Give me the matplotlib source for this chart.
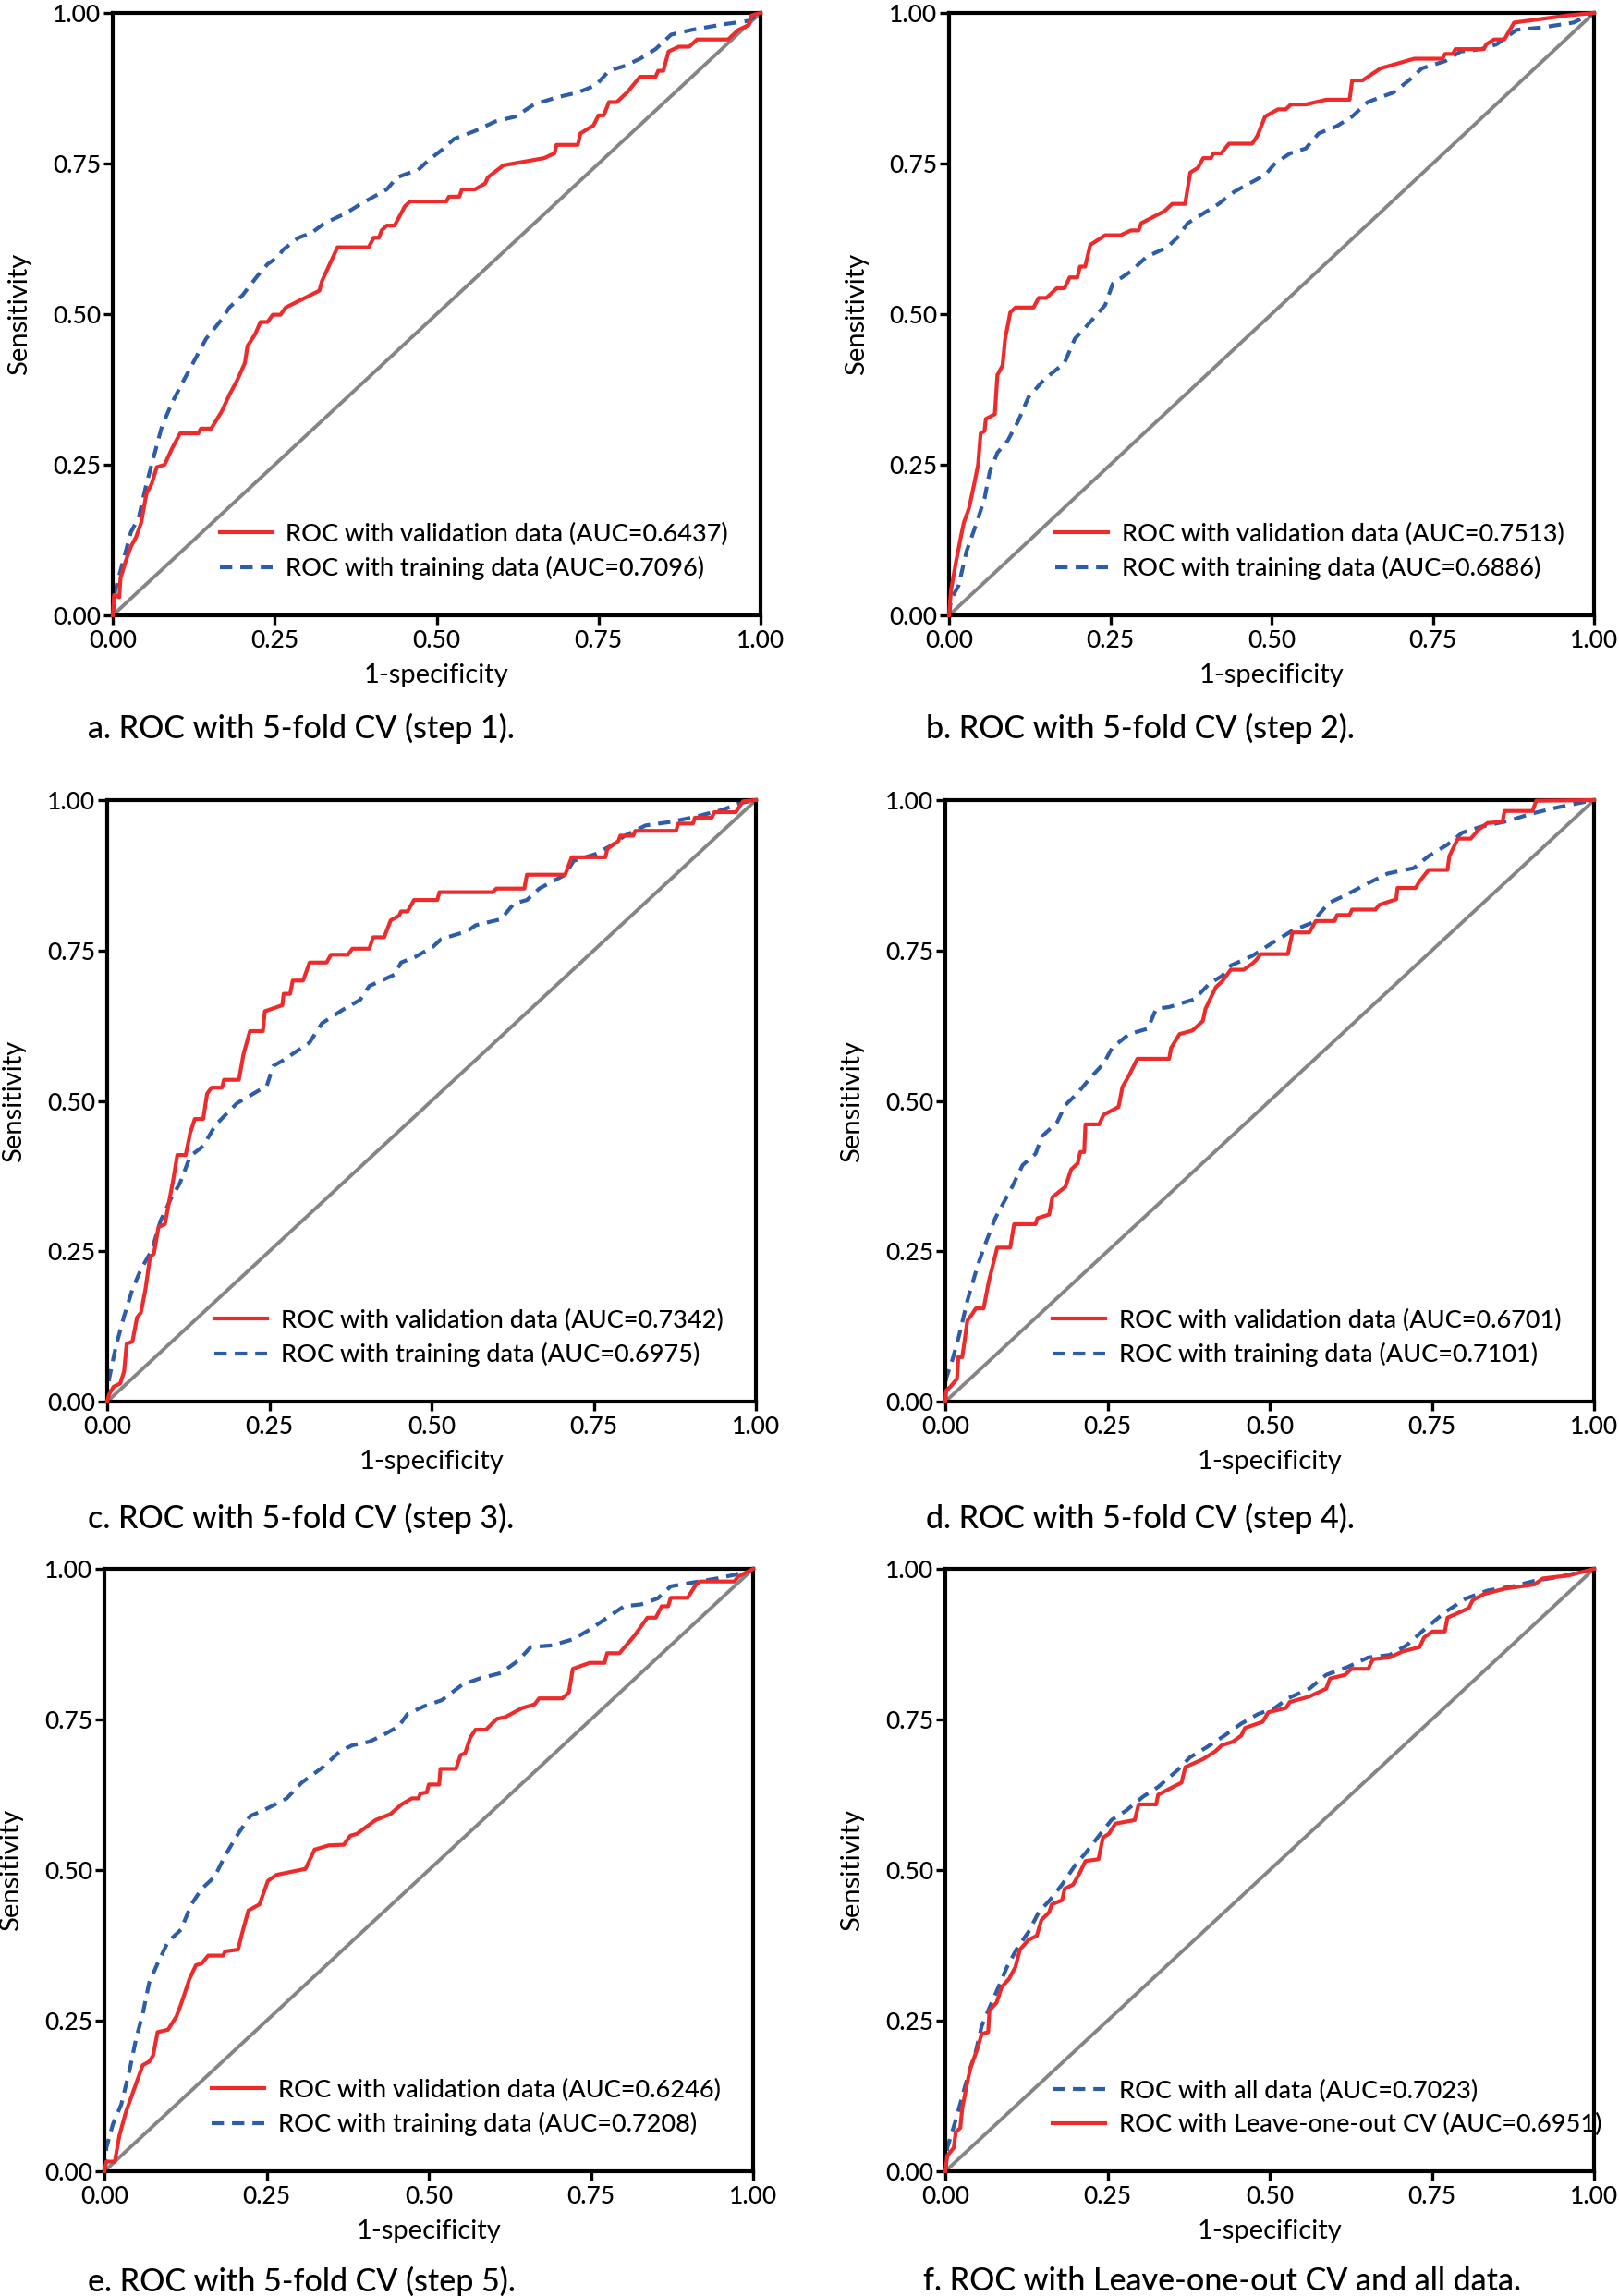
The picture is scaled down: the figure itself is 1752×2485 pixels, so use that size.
import matplotlib
matplotlib.use("Agg")
import matplotlib.pyplot as plt

plt.rcParams['font.family'] = ['Lato', 'DejaVu Sans']
plt.rcParams['font.weight'] = 'medium'

# ---------------- data ----------------
# Panel a
a_val_x = [0, 0.002, 0.01, 0.012, 0.02, 0.028, 0.036, 0.044, 0.052, 0.06, 0.068, 0.08, 0.092, 0.104, 0.132, 0.136, 0.152, 0.168, 0.18, 0.192, 0.204, 0.208, 0.22, 0.228, 0.239, 0.247, 0.259, 0.267, 0.319, 0.323, 0.347, 0.395, 0.403, 0.411, 0.415, 0.423, 0.435, 0.451, 0.459, 0.515, 0.519, 0.535, 0.539, 0.559, 0.575, 0.579, 0.603, 0.666, 0.682, 0.685, 0.718, 0.722, 0.734, 0.742, 0.75, 0.758, 0.766, 0.778, 0.794, 0.814, 0.838, 0.842, 0.85, 0.858, 0.874, 0.89, 0.902, 0.95, 0.966, 0.982, 0.986, 1.0]
a_val_y = [0, 0.034, 0.03, 0.062, 0.09, 0.114, 0.13, 0.154, 0.202, 0.218, 0.246, 0.25, 0.278, 0.302, 0.302, 0.31, 0.31, 0.338, 0.366, 0.39, 0.419, 0.447, 0.467, 0.487, 0.487, 0.499, 0.499, 0.511, 0.539, 0.555, 0.611, 0.611, 0.627, 0.627, 0.639, 0.647, 0.647, 0.679, 0.687, 0.687, 0.695, 0.695, 0.707, 0.707, 0.717, 0.727, 0.747, 0.759, 0.767, 0.781, 0.781, 0.8, 0.808, 0.813, 0.83, 0.83, 0.852, 0.852, 0.868, 0.894, 0.894, 0.904, 0.904, 0.936, 0.944, 0.944, 0.956, 0.956, 0.972, 0.98, 0.996, 1.0]
a_trn_x = [0, 0.004, 0.016, 0.028, 0.04, 0.052, 0.064, 0.076, 0.092, 0.108, 0.124, 0.144, 0.168, 0.18, 0.2, 0.223, 0.239, 0.255, 0.263, 0.287, 0.307, 0.327, 0.359, 0.383, 0.423, 0.439, 0.459, 0.471, 0.487, 0.511, 0.527, 0.559, 0.591, 0.622, 0.65, 0.686, 0.718, 0.746, 0.766, 0.79, 0.814, 0.838, 0.862, 0.894, 0.942, 0.982, 1.0]
a_trn_y = [0, 0.042, 0.09, 0.138, 0.162, 0.218, 0.266, 0.314, 0.354, 0.387, 0.419, 0.459, 0.491, 0.511, 0.531, 0.563, 0.583, 0.595, 0.607, 0.627, 0.635, 0.651, 0.667, 0.683, 0.707, 0.727, 0.735, 0.739, 0.755, 0.775, 0.791, 0.804, 0.82, 0.828, 0.848, 0.86, 0.868, 0.88, 0.904, 0.912, 0.924, 0.94, 0.964, 0.972, 0.981, 0.987, 1.0]

# Panel b
b_val_x = [0, 0.003, 0.011, 0.019, 0.023, 0.031, 0.039, 0.045, 0.049, 0.055, 0.057, 0.071, 0.075, 0.083, 0.087, 0.095, 0.103, 0.131, 0.139, 0.151, 0.167, 0.179, 0.187, 0.199, 0.203, 0.211, 0.219, 0.242, 0.266, 0.282, 0.294, 0.298, 0.334, 0.346, 0.366, 0.374, 0.386, 0.394, 0.406, 0.41, 0.422, 0.434, 0.47, 0.478, 0.49, 0.51, 0.522, 0.53, 0.553, 0.585, 0.621, 0.625, 0.641, 0.669, 0.721, 0.765, 0.769, 0.781, 0.785, 0.829, 0.833, 0.845, 0.861, 0.876, 0.904, 0.96, 1.0]
b_val_y = [0, 0.042, 0.09, 0.134, 0.154, 0.178, 0.218, 0.25, 0.302, 0.306, 0.326, 0.334, 0.399, 0.415, 0.459, 0.503, 0.511, 0.511, 0.527, 0.527, 0.543, 0.543, 0.561, 0.561, 0.579, 0.579, 0.615, 0.631, 0.631, 0.639, 0.639, 0.651, 0.671, 0.683, 0.683, 0.735, 0.743, 0.759, 0.759, 0.767, 0.767, 0.783, 0.783, 0.796, 0.828, 0.84, 0.84, 0.848, 0.848, 0.856, 0.856, 0.888, 0.888, 0.908, 0.924, 0.924, 0.932, 0.932, 0.94, 0.94, 0.948, 0.956, 0.956, 0.984, 0.988, 0.996, 1.0]
b_trn_x = [0, 0.003, 0.015, 0.027, 0.043, 0.055, 0.063, 0.075, 0.091, 0.107, 0.123, 0.147, 0.179, 0.195, 0.219, 0.242, 0.254, 0.282, 0.306, 0.338, 0.354, 0.37, 0.394, 0.418, 0.442, 0.462, 0.49, 0.506, 0.529, 0.553, 0.573, 0.601, 0.625, 0.649, 0.689, 0.713, 0.733, 0.769, 0.793, 0.825, 0.849, 0.88, 0.92, 0.968, 1.0]
b_trn_y = [0, 0.026, 0.05, 0.106, 0.154, 0.194, 0.238, 0.27, 0.29, 0.322, 0.362, 0.391, 0.419, 0.459, 0.487, 0.515, 0.551, 0.571, 0.595, 0.611, 0.627, 0.651, 0.667, 0.683, 0.703, 0.715, 0.731, 0.751, 0.767, 0.775, 0.8, 0.812, 0.828, 0.852, 0.868, 0.888, 0.908, 0.92, 0.936, 0.94, 0.948, 0.972, 0.976, 0.984, 1.0]

# Panel c
c_val_x = [0, 0.003, 0.01, 0.02, 0.026, 0.03, 0.039, 0.046, 0.052, 0.059, 0.066, 0.072, 0.079, 0.089, 0.095, 0.102, 0.108, 0.121, 0.128, 0.135, 0.148, 0.154, 0.161, 0.177, 0.18, 0.203, 0.21, 0.22, 0.24, 0.243, 0.27, 0.272, 0.282, 0.286, 0.302, 0.312, 0.338, 0.345, 0.371, 0.378, 0.404, 0.41, 0.427, 0.437, 0.45, 0.453, 0.463, 0.473, 0.509, 0.512, 0.594, 0.6, 0.643, 0.647, 0.706, 0.716, 0.768, 0.771, 0.788, 0.791, 0.811, 0.814, 0.877, 0.88, 0.903, 0.906, 0.932, 0.936, 0.969, 0.98, 1.0]
c_val_y = [0, 0.012, 0.025, 0.03, 0.05, 0.096, 0.1, 0.14, 0.148, 0.187, 0.24, 0.246, 0.29, 0.295, 0.33, 0.37, 0.41, 0.41, 0.447, 0.47, 0.47, 0.512, 0.522, 0.522, 0.535, 0.535, 0.577, 0.616, 0.616, 0.649, 0.659, 0.678, 0.678, 0.7, 0.7, 0.73, 0.73, 0.743, 0.743, 0.753, 0.753, 0.772, 0.772, 0.8, 0.808, 0.815, 0.815, 0.834, 0.834, 0.847, 0.847, 0.853, 0.853, 0.876, 0.876, 0.905, 0.905, 0.919, 0.932, 0.941, 0.941, 0.949, 0.949, 0.961, 0.961, 0.971, 0.971, 0.98, 0.98, 0.998, 1.0]
c_trn_x = [0, 0.003, 0.013, 0.026, 0.039, 0.052, 0.069, 0.082, 0.098, 0.112, 0.128, 0.148, 0.167, 0.2, 0.246, 0.256, 0.272, 0.312, 0.331, 0.364, 0.39, 0.404, 0.423, 0.443, 0.453, 0.476, 0.502, 0.515, 0.555, 0.568, 0.607, 0.627, 0.647, 0.666, 0.706, 0.719, 0.752, 0.778, 0.798, 0.83, 0.87, 0.909, 0.949, 0.975, 1.0]
c_trn_y = [0, 0.038, 0.09, 0.142, 0.187, 0.22, 0.252, 0.3, 0.337, 0.363, 0.408, 0.425, 0.46, 0.496, 0.525, 0.558, 0.568, 0.597, 0.629, 0.652, 0.668, 0.691, 0.7, 0.71, 0.73, 0.74, 0.756, 0.769, 0.782, 0.792, 0.802, 0.828, 0.834, 0.853, 0.876, 0.899, 0.91, 0.925, 0.941, 0.958, 0.964, 0.973, 0.984, 0.995, 1.0]

# Panel d
d_val_x = [0, 0.001, 0.008, 0.018, 0.02, 0.026, 0.029, 0.034, 0.041, 0.047, 0.059, 0.067, 0.08, 0.1, 0.106, 0.139, 0.142, 0.16, 0.165, 0.185, 0.194, 0.204, 0.208, 0.214, 0.216, 0.237, 0.244, 0.267, 0.273, 0.283, 0.296, 0.345, 0.348, 0.361, 0.381, 0.397, 0.401, 0.417, 0.427, 0.44, 0.46, 0.473, 0.479, 0.486, 0.528, 0.535, 0.561, 0.571, 0.6, 0.604, 0.623, 0.627, 0.663, 0.669, 0.686, 0.695, 0.697, 0.725, 0.731, 0.745, 0.774, 0.777, 0.79, 0.81, 0.823, 0.836, 0.859, 0.862, 0.905, 0.911, 1.0]
d_val_y = [0, 0.018, 0.025, 0.038, 0.074, 0.074, 0.096, 0.135, 0.145, 0.155, 0.155, 0.2, 0.256, 0.256, 0.295, 0.295, 0.305, 0.311, 0.34, 0.357, 0.386, 0.396, 0.415, 0.415, 0.461, 0.461, 0.477, 0.49, 0.523, 0.542, 0.57, 0.57, 0.588, 0.611, 0.617, 0.633, 0.653, 0.689, 0.699, 0.718, 0.718, 0.728, 0.734, 0.744, 0.744, 0.78, 0.78, 0.799, 0.799, 0.809, 0.809, 0.818, 0.818, 0.826, 0.832, 0.835, 0.854, 0.854, 0.865, 0.884, 0.884, 0.907, 0.936, 0.936, 0.952, 0.962, 0.964, 0.982, 0.982, 0.999, 1.0]
d_trn_x = [0, 0.001, 0.011, 0.021, 0.034, 0.05, 0.063, 0.077, 0.09, 0.103, 0.119, 0.139, 0.149, 0.172, 0.185, 0.204, 0.224, 0.244, 0.257, 0.283, 0.312, 0.325, 0.345, 0.384, 0.407, 0.427, 0.44, 0.473, 0.506, 0.535, 0.565, 0.591, 0.617, 0.65, 0.682, 0.722, 0.745, 0.774, 0.797, 0.826, 0.866, 0.905, 0.944, 1.0]
d_trn_y = [0, 0.038, 0.07, 0.109, 0.168, 0.227, 0.266, 0.305, 0.331, 0.357, 0.393, 0.412, 0.441, 0.464, 0.493, 0.513, 0.539, 0.562, 0.588, 0.611, 0.62, 0.653, 0.656, 0.669, 0.695, 0.708, 0.725, 0.741, 0.764, 0.783, 0.796, 0.829, 0.842, 0.861, 0.878, 0.887, 0.907, 0.926, 0.946, 0.956, 0.965, 0.978, 0.988, 1.0]

# Panel e
e_val_x = [0, 0.003, 0.016, 0.023, 0.033, 0.046, 0.059, 0.069, 0.075, 0.082, 0.098, 0.111, 0.118, 0.124, 0.131, 0.141, 0.15, 0.16, 0.183, 0.186, 0.206, 0.212, 0.222, 0.239, 0.252, 0.265, 0.31, 0.324, 0.346, 0.369, 0.379, 0.389, 0.418, 0.441, 0.458, 0.474, 0.484, 0.487, 0.497, 0.5, 0.516, 0.518, 0.542, 0.549, 0.556, 0.564, 0.572, 0.588, 0.605, 0.618, 0.644, 0.663, 0.67, 0.706, 0.716, 0.722, 0.748, 0.771, 0.775, 0.794, 0.817, 0.837, 0.85, 0.859, 0.869, 0.873, 0.899, 0.912, 0.918, 0.971, 0.977, 1.0]
e_val_y = [0, 0.016, 0.016, 0.059, 0.098, 0.137, 0.176, 0.182, 0.192, 0.231, 0.235, 0.257, 0.277, 0.296, 0.319, 0.342, 0.345, 0.358, 0.358, 0.365, 0.368, 0.394, 0.433, 0.443, 0.482, 0.492, 0.502, 0.534, 0.541, 0.542, 0.557, 0.56, 0.583, 0.593, 0.609, 0.619, 0.619, 0.627, 0.629, 0.642, 0.642, 0.668, 0.668, 0.691, 0.694, 0.72, 0.733, 0.733, 0.751, 0.754, 0.769, 0.775, 0.785, 0.785, 0.795, 0.834, 0.844, 0.844, 0.86, 0.86, 0.889, 0.919, 0.919, 0.938, 0.938, 0.952, 0.952, 0.974, 0.979, 0.979, 0.987, 1.0]
e_trn_x = [0, 0.003, 0.013, 0.026, 0.039, 0.049, 0.059, 0.069, 0.082, 0.098, 0.118, 0.134, 0.15, 0.17, 0.186, 0.206, 0.225, 0.245, 0.281, 0.304, 0.337, 0.363, 0.382, 0.408, 0.428, 0.454, 0.467, 0.493, 0.52, 0.552, 0.578, 0.611, 0.637, 0.657, 0.69, 0.722, 0.748, 0.775, 0.801, 0.827, 0.853, 0.873, 0.905, 0.944, 0.971, 1.0]
e_trn_y = [0, 0.039, 0.078, 0.111, 0.169, 0.221, 0.261, 0.313, 0.345, 0.381, 0.401, 0.443, 0.469, 0.489, 0.524, 0.56, 0.59, 0.599, 0.619, 0.645, 0.671, 0.697, 0.707, 0.713, 0.723, 0.739, 0.759, 0.772, 0.782, 0.808, 0.818, 0.827, 0.847, 0.87, 0.873, 0.883, 0.899, 0.919, 0.938, 0.941, 0.951, 0.971, 0.977, 0.984, 0.99, 1.0]

# Panel f
f_loo_x = [0, 0.003, 0.013, 0.016, 0.023, 0.026, 0.033, 0.039, 0.049, 0.056, 0.066, 0.068, 0.079, 0.087, 0.098, 0.108, 0.115, 0.128, 0.141, 0.148, 0.16, 0.164, 0.18, 0.184, 0.197, 0.207, 0.216, 0.236, 0.243, 0.252, 0.262, 0.292, 0.298, 0.325, 0.328, 0.351, 0.364, 0.37, 0.397, 0.416, 0.426, 0.443, 0.456, 0.462, 0.489, 0.498, 0.525, 0.531, 0.561, 0.587, 0.593, 0.616, 0.626, 0.652, 0.659, 0.685, 0.705, 0.731, 0.738, 0.751, 0.77, 0.774, 0.793, 0.807, 0.813, 0.83, 0.862, 0.908, 0.921, 0.961, 1.0]
f_loo_y = [0, 0.026, 0.039, 0.065, 0.072, 0.104, 0.143, 0.173, 0.202, 0.228, 0.231, 0.267, 0.28, 0.306, 0.319, 0.339, 0.368, 0.384, 0.391, 0.417, 0.43, 0.443, 0.45, 0.469, 0.476, 0.495, 0.515, 0.518, 0.554, 0.56, 0.577, 0.583, 0.609, 0.609, 0.625, 0.638, 0.645, 0.671, 0.684, 0.697, 0.707, 0.713, 0.723, 0.736, 0.746, 0.762, 0.769, 0.779, 0.788, 0.801, 0.818, 0.824, 0.834, 0.834, 0.85, 0.853, 0.863, 0.87, 0.886, 0.896, 0.896, 0.919, 0.928, 0.935, 0.948, 0.958, 0.967, 0.974, 0.984, 0.989, 1.0]
f_all_x = [0, 0.003, 0.016, 0.026, 0.036, 0.046, 0.056, 0.069, 0.082, 0.095, 0.111, 0.128, 0.144, 0.161, 0.18, 0.2, 0.216, 0.239, 0.256, 0.279, 0.305, 0.328, 0.357, 0.377, 0.403, 0.43, 0.456, 0.482, 0.508, 0.528, 0.561, 0.587, 0.62, 0.652, 0.685, 0.711, 0.738, 0.77, 0.803, 0.836, 0.875, 0.908, 0.948, 1.0]
f_all_y = [0, 0.039, 0.085, 0.124, 0.163, 0.195, 0.241, 0.274, 0.306, 0.339, 0.371, 0.397, 0.43, 0.45, 0.476, 0.508, 0.528, 0.56, 0.583, 0.599, 0.622, 0.638, 0.665, 0.687, 0.704, 0.723, 0.743, 0.759, 0.769, 0.785, 0.801, 0.824, 0.837, 0.853, 0.857, 0.873, 0.899, 0.928, 0.951, 0.964, 0.971, 0.98, 0.987, 1.0]

ticks = [0.0, 0.25, 0.5, 0.75, 1.0]
tick_labels = ['0.00', '0.25', '0.50', '0.75', '1.00']

captions = ['a. ROC with 5-fold CV (step 1).', 'b. ROC with 5-fold CV (step 2).',
            'c. ROC with 5-fold CV (step 3).', 'd. ROC with 5-fold CV (step 4).',
            'e. ROC with 5-fold CV (step 5).', 'f. ROC with Leave-one-out CV and all data.']

val_labels = ['ROC with validation data (AUC=0.6437)', 'ROC with validation data (AUC=0.7513)',
              'ROC with validation data (AUC=0.7342)', 'ROC with validation data (AUC=0.6701)',
              'ROC with validation data (AUC=0.6246)', 'ROC with Leave-one-out CV (AUC=0.6951)']
trn_labels = ['ROC with training data (AUC=0.7096)', 'ROC with training data (AUC=0.6886)',
              'ROC with training data (AUC=0.6975)', 'ROC with training data (AUC=0.7101)',
              'ROC with training data (AUC=0.7208)', 'ROC with all data (AUC=0.7023)']

red_series = [(a_val_x, a_val_y), (b_val_x, b_val_y), (c_val_x, c_val_y),
              (d_val_x, d_val_y), (e_val_x, e_val_y), (f_loo_x, f_loo_y)]
blue_series = [(a_trn_x, a_trn_y), (b_trn_x, b_trn_y), (c_trn_x, c_trn_y),
               (d_trn_x, d_trn_y), (e_trn_x, e_trn_y), (f_all_x, f_all_y)]

# ---------------- layout ----------------
W, H = 1752, 2485
DPI = 100
fig = plt.figure(figsize=(W / DPI, H / DPI), dpi=DPI)

# axes boxes in pixels: left, right, top, bottom
boxes = [(122, 823, 14, 666), (1027, 1725, 14, 666),
         (116, 818, 866, 1517), (1023, 1725, 866, 1517),
         (113, 815, 1698, 2350), (1023, 1725, 1698, 2350)]
cap_pos = [(95, 788), (1002, 788), (95, 1643), (1002, 1643), (95, 2469), (999, 2469)]

RED = '#ee2a2a'
BLUE = '#2d5ca8'
GRAY = '#858585'
TICK_FS = 19
LAB_FS = 21
LEG_FS = 19.5
CAP_FS = 24.5

for i in range(6):
    l, r, t, b = boxes[i]
    ax = fig.add_axes([l / W, 1 - b / H, (r - l) / W, (b - t) / H])
    ax.plot([0, 1], [0, 1], color=GRAY, lw=2.8, zorder=1, clip_on=False)
    rx, ry = red_series[i]
    bx, by = blue_series[i]
    red_line, = ax.plot(rx, ry, color=RED, lw=3.0, zorder=3, clip_on=False,
                        label=val_labels[i])
    blue_line, = ax.plot(bx, by, color=BLUE, lw=3.0, ls=(0, (3.2, 2.1)), zorder=2,
                         clip_on=False, label=trn_labels[i])
    ax.set_xlim(0, 1)
    ax.set_ylim(0, 1)
    ax.set_xticks(ticks)
    ax.set_xticklabels(tick_labels)
    ax.set_yticks(ticks)
    ax.set_yticklabels(tick_labels)
    ax.tick_params(direction='out', length=7, width=2.4, labelsize=TICK_FS, pad=2,
                   color='black')
    ax.tick_params(axis='x', pad=4)
    for s in ax.spines.values():
        s.set_linewidth(3.0)
        s.set_color('black')
    ax.set_xlabel('1-specificity', fontsize=LAB_FS)
    ax.set_ylabel('Sensitivity', fontsize=LAB_FS)
    ax.xaxis.set_label_coords(0.5, -0.08)
    ax.yaxis.set_label_coords(-0.125, 0.5)
    if i == 5:
        handles = [blue_line, red_line]
    else:
        handles = [red_line, blue_line]
    ax.legend(handles=handles, loc='lower left', bbox_to_anchor=(0.165, 0.058),
              frameon=False, fontsize=LEG_FS, handlelength=2.1, handletextpad=0.55,
              labelspacing=0.42, borderaxespad=0, borderpad=0)
    cx, cy = cap_pos[i]
    fig.text(cx / W, 1 - cy / H, captions[i], fontsize=CAP_FS, ha='left', va='center')

fig.savefig('out.png', dpi=DPI)
